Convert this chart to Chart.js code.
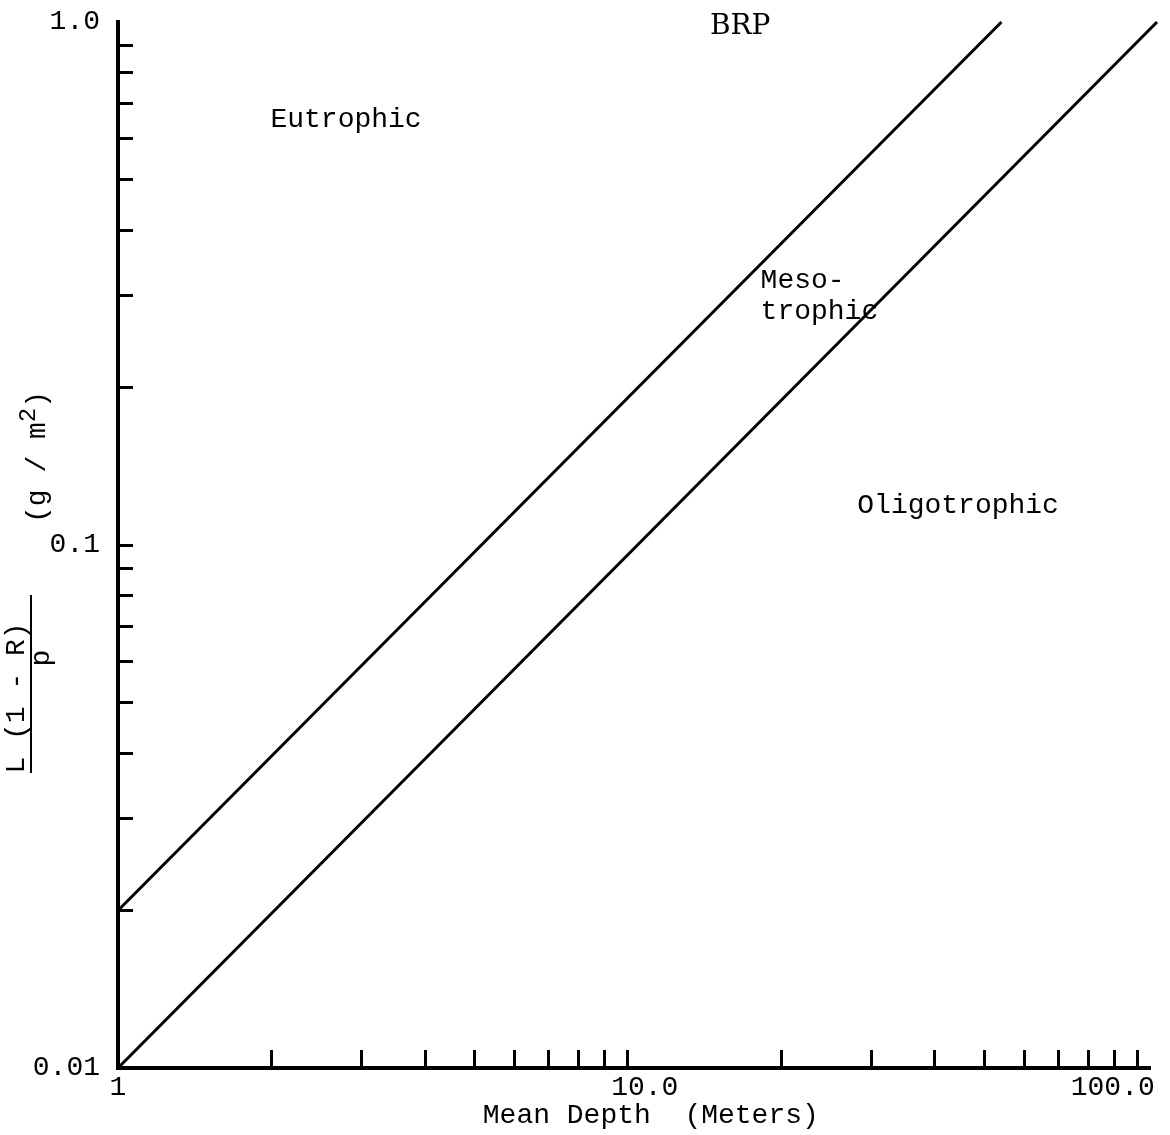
<!DOCTYPE html>
<html>
<head>
<meta charset="utf-8">
<title>Trophic state vs mean depth</title>
<script src="https://cdn.jsdelivr.net/npm/chart.js@4/dist/chart.umd.min.js"></script>
<style>
  html, body { margin: 0; padding: 0; background: #fff; }
  canvas { display: block; }
</style>
</head>
<body>
<canvas id="chart" width="1170" height="1135"></canvas>
<script>
// Boundary lines: mean depth (m) against L(1-R)/p (g/m2), read at both ends
const upperDepth = [1, 54];
const upperLoad = [0.02, 1.0];
const lowerDepth = [1, 109];
const lowerLoad = [0.01, 1.0];

// Tick marks on both axes, and the ones that carry a label
// (the typed labels sit a little off their ticks, hence the padding spaces)
const depthTicks = [1, 2, 3, 4, 5, 6, 7, 8, 9, 10, 20, 30, 40, 50, 60, 70, 80, 90, 100];
const depthLabelValues = [1, 10, 100];
const depthLabelText = ['1', '  10.0', '100.0   '];
const loadTicks = [0.01, 0.02, 0.03, 0.04, 0.05, 0.06, 0.07, 0.08, 0.09,
  0.1, 0.2, 0.3, 0.4, 0.5, 0.6, 0.7, 0.8, 0.9, 1.0];
const loadLabelValues = [0.01, 0.1, 1.0];
const loadLabelText = ['0.01', '0.1', '1.0'];

const FONT = '"Liberation Mono", "DejaVu Sans Mono", monospace';
const SERIF = '"DejaVu Serif", "Liberation Serif", serif';

// Region names, placed in data units
const notes = [
  { text: 'BRP', x: 16.6, y: 0.98, align: 'center', font: '28px ' + SERIF },
  { text: 'Eutrophic', x: 2.8, y: 0.65, align: 'center', font: '28px ' + FONT },
  { text: 'Meso-', x: 18.2, y: 0.32, align: 'left', font: '28px ' + FONT },
  { text: 'trophic', x: 18.2, y: 0.279, align: 'left', font: '28px ' + FONT },
  { text: 'Oligotrophic', x: 44.4, y: 0.119, align: 'center', font: '28px ' + FONT }
];

function pairs(xs, ys) {
  return xs.map((x, i) => ({ x: x, y: ys[i] }));
}

function drawRotated(ctx, text, cx, cy) {
  ctx.save();
  ctx.translate(cx, cy);
  ctx.rotate(-Math.PI / 2);
  ctx.fillText(text, 0, 0);
  ctx.restore();
}

const annotate = {
  id: 'annotate',
  afterDraw(chart) {
    const { ctx } = chart;
    const { x, y } = chart.scales;
    ctx.save();
    ctx.fillStyle = '#000';
    ctx.textBaseline = 'middle';
    notes.forEach(n => {
      ctx.font = n.font;
      ctx.textAlign = n.align;
      ctx.fillText(n.text, x.getPixelForValue(n.x), y.getPixelForValue(n.y));
    });

    // y axis title: L(1-R)/p as a fraction, then the unit
    ctx.font = '28px ' + FONT;
    ctx.textAlign = 'center';
    drawRotated(ctx, 'L (1 - R)', 17, 698);
    drawRotated(ctx, 'p', 42, 658);
    ctx.strokeStyle = '#000';
    ctx.lineWidth = 2;
    ctx.beginPath();
    ctx.moveTo(31, 595);
    ctx.lineTo(31, 773);
    ctx.stroke();

    // (g / m2) with a raised 2
    ctx.save();
    ctx.translate(38, 457);
    ctx.rotate(-Math.PI / 2);
    ctx.textAlign = 'left';
    const head = '(g / m';
    const w1 = ctx.measureText(head).width;
    ctx.font = '24px ' + FONT;
    const w2 = ctx.measureText('2').width;
    ctx.font = '28px ' + FONT;
    const w3 = ctx.measureText(')').width;
    let u = -(w1 + w2 + w3) / 2;
    ctx.fillText(head, u, 0);
    u += w1;
    ctx.font = '24px ' + FONT;
    ctx.fillText('2', u, -9);
    u += w2;
    ctx.font = '28px ' + FONT;
    ctx.fillText(')', u, 0);
    ctx.restore();

    ctx.restore();
  }
};

const lineStyle = {
  borderColor: '#000',
  borderWidth: 3,
  pointRadius: 0,
  fill: false,
  tension: 0,
  clip: false
};

new Chart(document.getElementById('chart'), {
  type: 'line',
  data: {
    datasets: [
      Object.assign({ label: 'Upper limit', data: pairs(upperDepth, upperLoad) }, lineStyle),
      Object.assign({ label: 'Lower limit', data: pairs(lowerDepth, lowerLoad) }, lineStyle)
    ]
  },
  options: {
    responsive: false,
    animation: false,
    devicePixelRatio: 1,
    layout: { padding: { top: 22, right: 20, bottom: 0, left: 0 } },
    plugins: {
      legend: { display: false },
      tooltip: { enabled: false }
    },
    scales: {
      x: {
        type: 'logarithmic',
        min: 1,
        max: 105.6,
        afterBuildTicks: axis => { axis.ticks = depthTicks.map(v => ({ value: v })); },
        afterFit: axis => {
          axis.height = 67;
          axis.paddingLeft = 0;
          axis.paddingRight = 0;
        },
        border: { display: true, color: '#000', width: 4 },
        grid: {
          drawOnChartArea: false,
          drawTicks: true,
          tickLength: -18,
          tickWidth: 3,
          tickColor: '#000'
        },
        ticks: {
          autoSkip: false,
          maxRotation: 0,
          padding: 21,
          color: '#000',
          font: { family: FONT, size: 28 },
          callback: value => {
            const i = depthLabelValues.indexOf(value);
            return i >= 0 ? depthLabelText[i] : '';
          }
        },
        title: {
          display: true,
          text: '  Mean Depth  (Meters)',
          color: '#000',
          font: { family: FONT, size: 28 },
          padding: { top: 0, bottom: 3 }
        }
      },
      y: {
        type: 'logarithmic',
        min: 0.01,
        max: 1.0,
        afterBuildTicks: axis => { axis.ticks = loadTicks.map(v => ({ value: v })); },
        afterFit: axis => {
          axis.width = 118;
          axis.paddingTop = 0;
          axis.paddingBottom = 0;
        },
        border: { display: true, color: '#000', width: 4 },
        grid: {
          drawOnChartArea: false,
          drawTicks: true,
          tickLength: -15,
          tickWidth: 3,
          tickColor: ctx => (ctx.tick && ctx.tick.value === 1.0) ? 'rgba(0,0,0,0)' : '#000'
        },
        ticks: {
          autoSkip: false,
          padding: 33,
          color: '#000',
          font: { family: FONT, size: 28 },
          callback: value => {
            const i = loadLabelValues.indexOf(value);
            return i >= 0 ? loadLabelText[i] : '';
          }
        }
      }
    }
  },
  plugins: [annotate]
});
</script>
</body>
</html>
